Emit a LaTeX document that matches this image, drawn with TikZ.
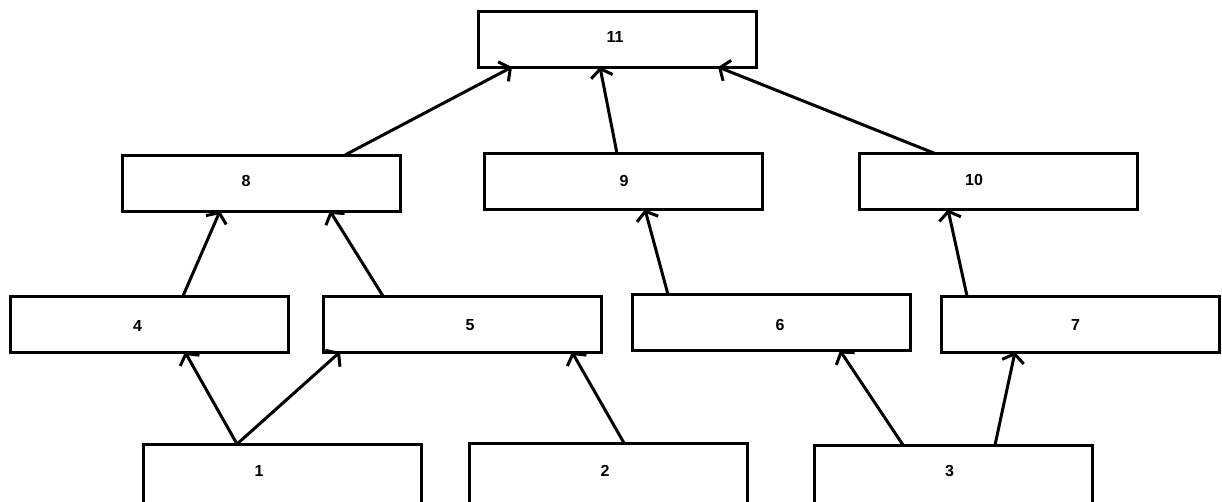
\documentclass[tikz,border=0pt]{standalone}
\usepackage{fontspec}
\setmainfont{Liberation Sans}
\usetikzlibrary{arrows.meta}

\tikzset{
    blk/.style={draw, line width=3pt, minimum width=278pt, minimum height=56pt, inner sep=0pt, outer sep=0pt},
    blkcut/.style={blk, minimum height=64pt},
    lbl/.style={font=\bfseries\fontsize{16}{18}\selectfont, inner sep=0pt},
    up/.style={-{Straight Barb[length=8pt, width=22pt]}, line width=3pt}
}

\begin{document}
\begin{tikzpicture}[x=1pt, y=-1pt]
    \useasboundingbox (0, 0) rectangle (1222, 501);
    \clip (0, 0) rectangle (1222, 501);
    % top row
    \node[blk, label={[lbl, xshift=-2.5pt, yshift=2.5pt]center:11}] (n11) at (617.5, 39) {};
    % second row
    \node[blk, label={[lbl, xshift=-15pt, yshift=2pt]center:8}] (n8) at (261, 183) {};
    \node[blk, label={[lbl, xshift=1pt, yshift=0.5pt]center:9}] (n9) at (623, 181.5) {};
    \node[blk, label={[lbl, xshift=-24pt, yshift=1.5pt]center:10}] (n10) at (998, 181.5) {};
    % third row
    \node[blk, label={[lbl, xshift=-11.5pt, yshift=-1.5pt]center:4}] (n4) at (149, 324) {};
    \node[blk, label={[lbl, xshift=8pt, yshift=-1pt]center:5}] (n5) at (462, 324) {};
    \node[blk, label={[lbl, xshift=9pt, yshift=-2.5pt]center:6}] (n6) at (771, 322.5) {};
    \node[blk, label={[lbl, xshift=-5pt, yshift=-1pt]center:7}] (n7) at (1080.5, 324) {};
    % bottom row (cut by the page edge)
    \node[blkcut, label={[lbl, xshift=-23pt, yshift=5pt]center:1}] (n1) at (282, 476) {};
    \node[blkcut, label={[lbl, xshift=-3pt, yshift=4pt]center:2}] (n2) at (608, 475) {};
    \node[blkcut, label={[lbl, xshift=-4pt, yshift=6pt]center:3}] (n3) at (953.5, 477) {};

    \draw[up] ([xshift=84pt]n8.north) -- ([xshift=-105.5pt]n11.south);
    \draw[up] ([xshift=-6pt]n9.north) -- ([xshift=-17.5pt]n11.south);
    \draw[up] ([xshift=-63pt]n10.north) -- ([xshift=100.5pt]n11.south);
    \draw[up] ([xshift=34pt]n4.north) -- ([xshift=-41pt]n8.south);
    \draw[up] ([xshift=-79pt]n5.north) -- ([xshift=69pt]n8.south);
    \draw[up] ([xshift=-103pt]n6.north) -- ([xshift=22pt]n9.south);
    \draw[up] ([xshift=-113.5pt]n7.north) -- ([xshift=-50pt]n10.south);
    \draw[up] ([xshift=-45pt]n1.north) -- ([xshift=36pt]n4.south);
    \draw[up] ([xshift=-45pt]n1.north) -- ([xshift=-122pt]n5.south);
    \draw[up] ([xshift=16pt]n2.north) -- ([xshift=110pt]n5.south);
    \draw[up] ([xshift=-50.5pt]n3.north) -- ([xshift=69pt]n6.south);
    \draw[up] ([xshift=41.5pt]n3.north) -- ([xshift=-65.5pt]n7.south);
\end{tikzpicture}
\end{document}
